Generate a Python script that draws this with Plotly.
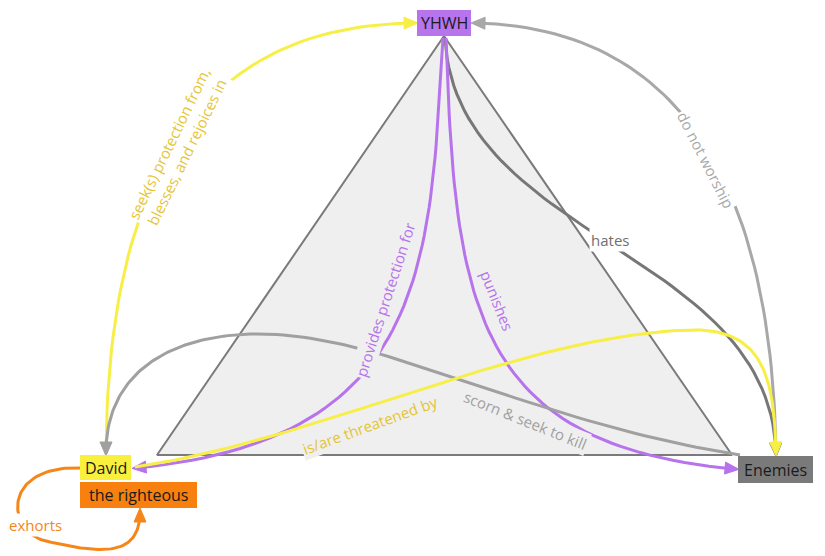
import numpy as np
import plotly.graph_objects as go

# nodes: label, box (x0, y0, x1, y1) in pixel-like coords, fill colour
node_names = ["YHWH", "David", "the righteous", "Enemies"]
node_boxes = [(417, 10, 471, 36), (80, 455, 131, 480), (80, 482, 197, 508), (738, 456, 813, 483)]
node_colors = ["#b874ec", "#f9f03e", "#f7800e", "#7a7a7a"]

triangle = [(444, 36), (157, 455), (732, 455)]

# edges: control points (cubic segments), colour, label, label pos, angle
edge_labels = ["seek(s) protection from,<br>blesses, and rejoices in", "do not worship", "hates",
               "provides protection for", "punishes", "scorn & seek to kill",
               "is/are threatened by", "exhorts"]
edge_colors = ["#f7ef45", "#a8a8a8", "#777777", "#b673ec", "#b673ec", "#a0a0a0", "#f7ef45", "#f5861a"]
label_colors = ["#e5c532", "#a8a8a8", "#6f6f6f", "#b673ec", "#b673ec", "#a0a0a0", "#e5c532", "#f5861a"]
label_bg = ["white", "white", "white", "#efefef", "#efefef", "#efefef", "#efefef", "white"]
edge_paths = [
    [(106, 452), (108, 150), (220, 25), (414, 23)],
    [(776, 453), (772, 200), (690, 28), (475, 23)],
    [(445, 38), (455, 240), (770, 250), (776, 453)],
    [(443, 38), (430, 260), (430, 440), (136, 468)],
    [(446, 38), (455, 300), (470, 445), (735, 469)],
    [(740, 455), (520, 420), (380, 330), (250, 334), (160, 337), (106, 380), (106, 452)],
    [(135, 467), (320, 440), (520, 335), (690, 330), (765, 328), (774, 380), (776, 452)],
    [(80, 468), (0, 465), (5, 535), (50, 542), (95, 552), (140, 560), (140, 512)],
]
label_pos = [(178, 148), (706, 160), (610, 240), (385, 300), (497, 300), (525, 420), (370, 425), (35, 525)]
label_angle = [-64, 63, 0, -72, 68, 22, -20, 0]


def bezier(pts, n=60):
    out = []
    for k in range(0, len(pts) - 1, 3):
        p = np.array(pts[k:k + 4], dtype=float)
        t = np.linspace(0, 1, n)[:, None]
        out.append((1 - t) ** 3 * p[0] + 3 * (1 - t) ** 2 * t * p[1] + 3 * (1 - t) * t ** 2 * p[2] + t ** 3 * p[3])
    return np.vstack(out)


fig = go.Figure()
tx = [p[0] for p in triangle] + [triangle[0][0]]
ty = [p[1] for p in triangle] + [triangle[0][1]]
fig.add_trace(go.Scatter(x=tx, y=ty, fill="toself", fillcolor="#efefef", mode="lines",
                         line=dict(color="#7a7a7a", width=2), hoverinfo="skip"))

for pts, col in zip(edge_paths, edge_colors):
    c = bezier(pts)
    fig.add_trace(go.Scatter(x=c[:, 0], y=c[:, 1], mode="lines", line=dict(color=col, width=3), hoverinfo="skip"))
    # arrowhead
    end = np.array(pts[-1], float)
    d = end - np.array(pts[-2], float)
    d /= np.linalg.norm(d)
    nrm = np.array([-d[1], d[0]])
    tip = end + d * 4
    base = tip - d * 14
    tri = np.array([tip, base + nrm * 6, base - nrm * 6, tip])
    fig.add_trace(go.Scatter(x=tri[:, 0], y=tri[:, 1], fill="toself", fillcolor=col, mode="lines",
                             line=dict(color=col, width=1), hoverinfo="skip"))

for lab, col, bg, (x, y), a in zip(edge_labels, label_colors, label_bg, label_pos, label_angle):
    fig.add_annotation(x=x, y=y, text=lab, showarrow=False, textangle=a, bgcolor=bg,
                       font=dict(color=col, size=15, family="Open Sans"))

for name, (x0, y0, x1, y1), col in zip(node_names, node_boxes, node_colors):
    fig.add_shape(type="rect", x0=x0, y0=y0, x1=x1, y1=y1, fillcolor=col, line=dict(width=0))
    fig.add_annotation(x=(x0 + x1) / 2, y=(y0 + y1) / 2, text=name, showarrow=False,
                       font=dict(color="#1a1a1a", size=16, family="Open Sans"))

# ranges shifted by the page's 8px body margin
fig.update_layout(width=825, height=556, margin=dict(l=0, r=0, t=0, b=0), showlegend=False,
                  plot_bgcolor="white", paper_bgcolor="white",
                  xaxis=dict(range=[8, 833], visible=False),
                  yaxis=dict(range=[564, 8], visible=False))
fig.write_html("out.html")
